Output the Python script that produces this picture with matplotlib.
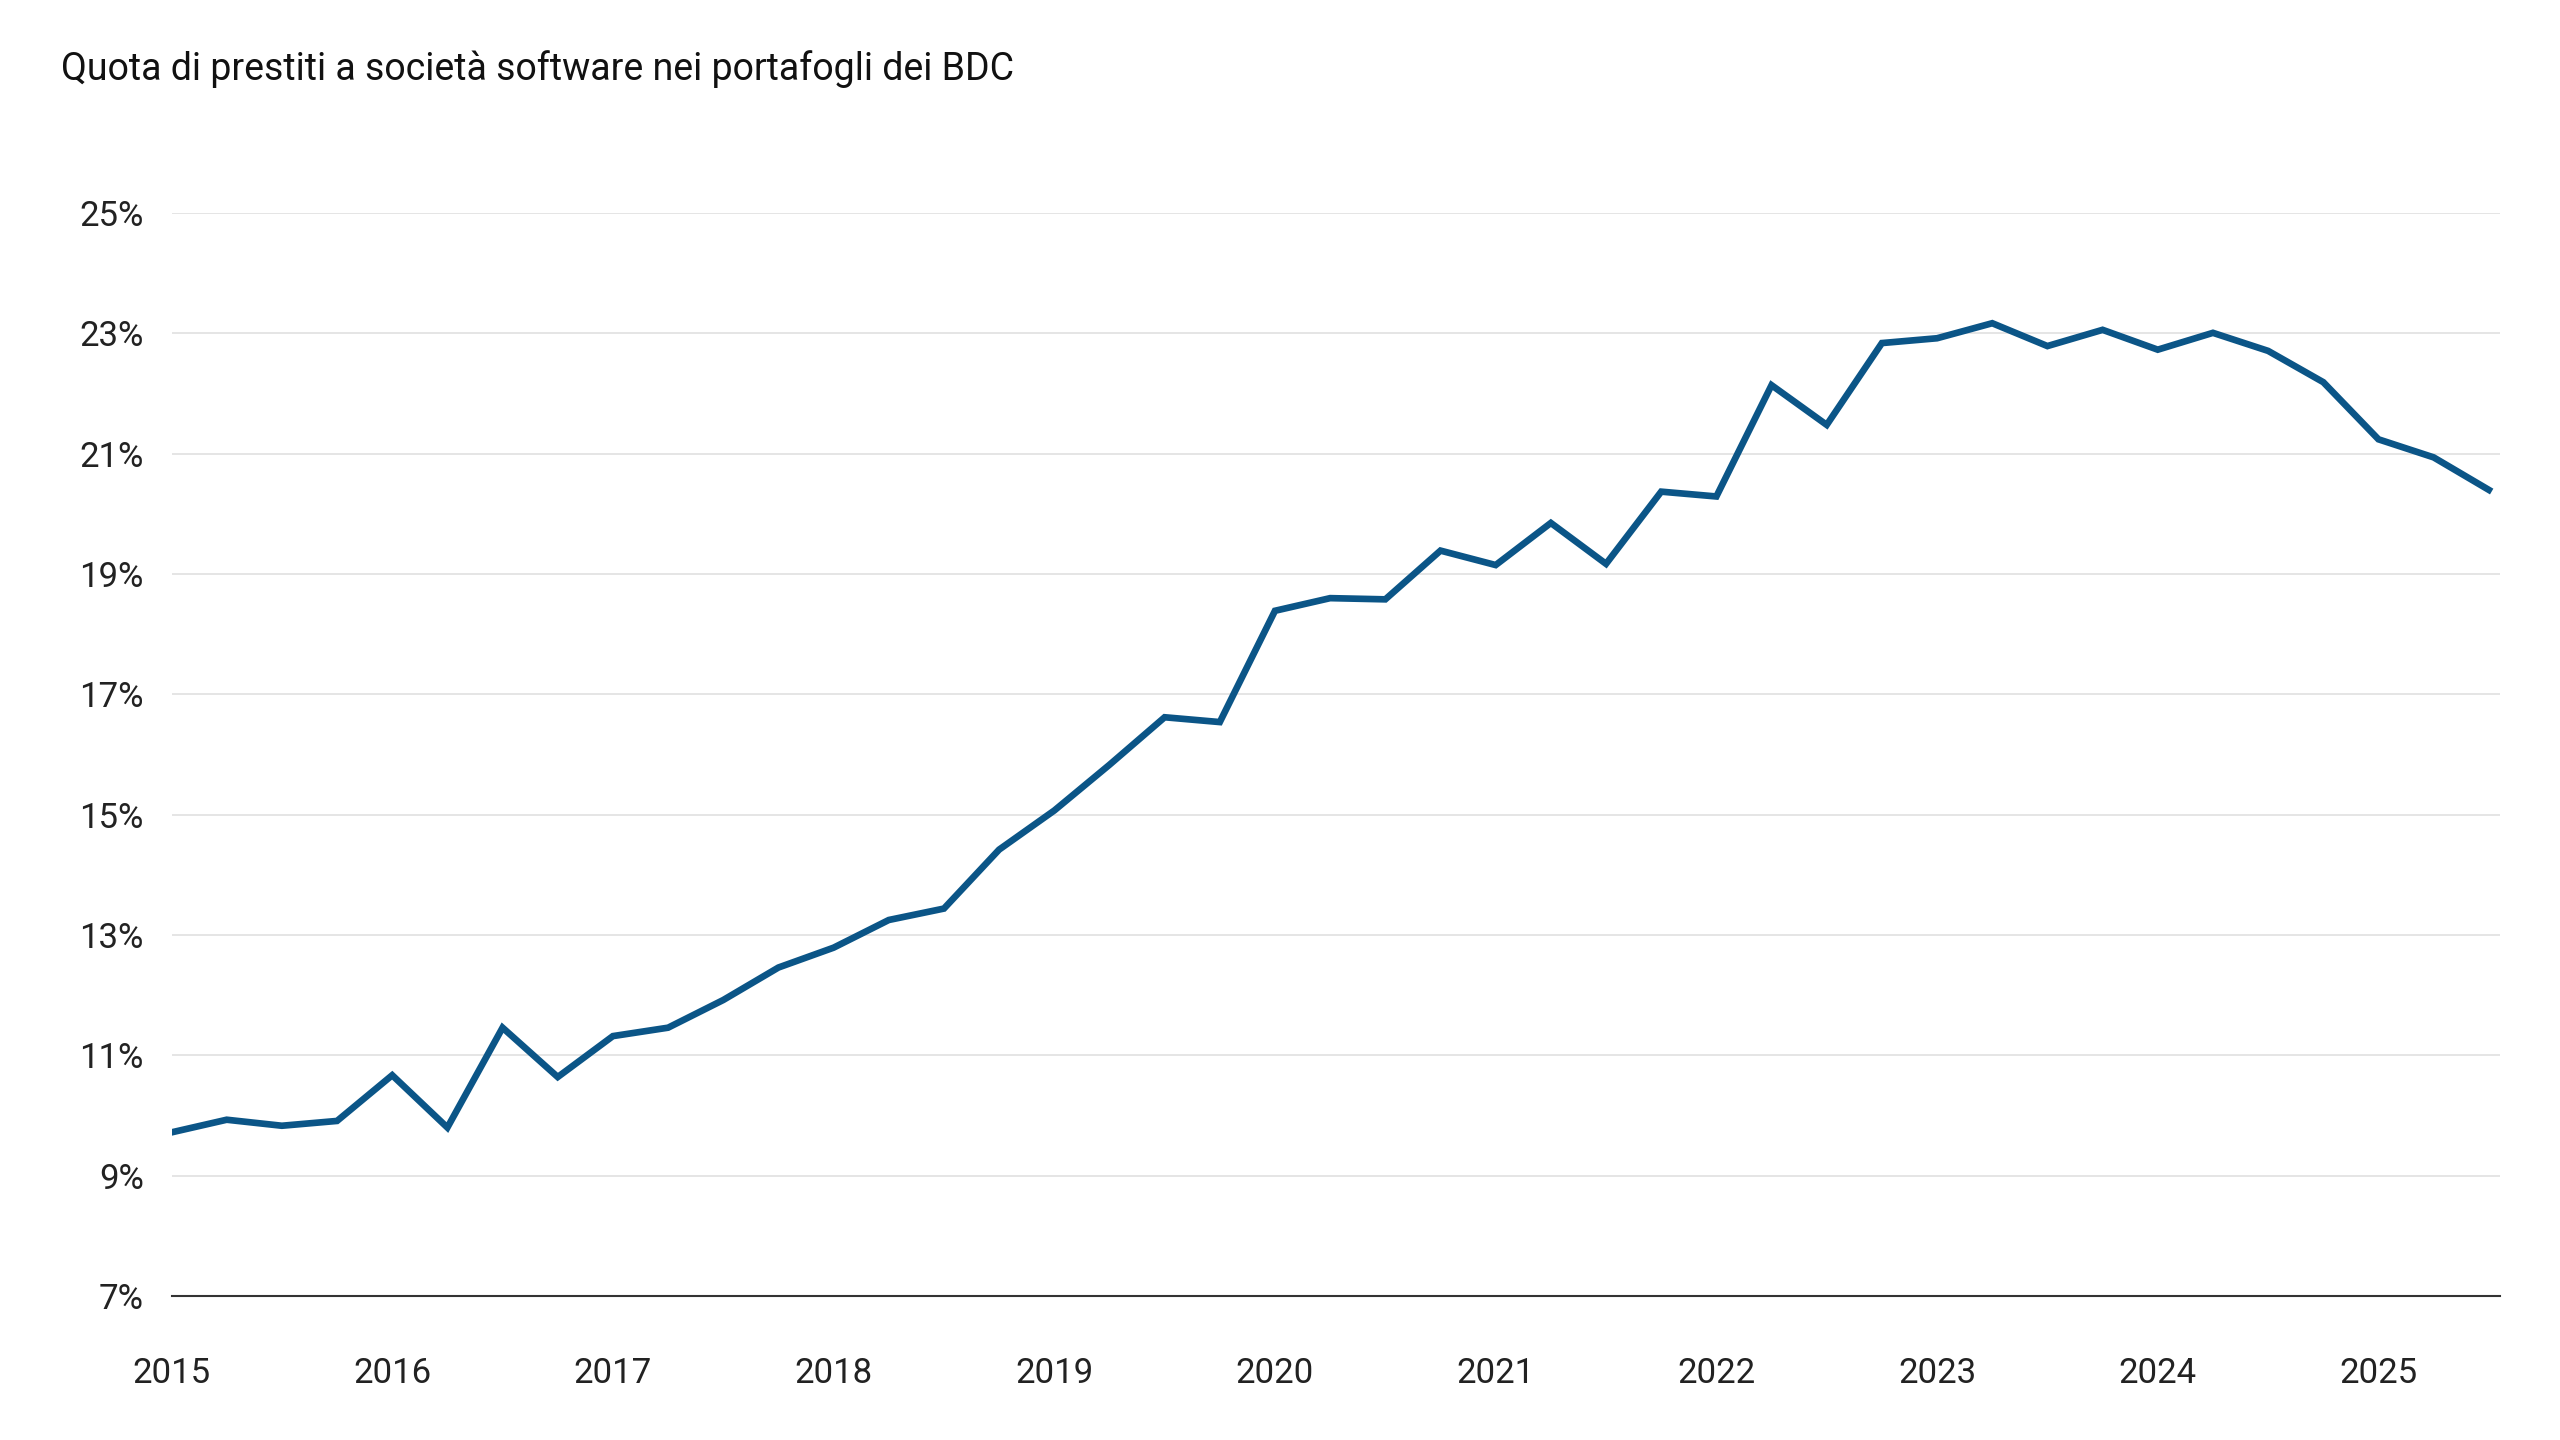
import matplotlib
matplotlib.use("Agg")
import matplotlib.pyplot as plt
import numpy as np

title = "Quota di prestiti a società software nei portafogli dei BDC"
start_year = 2015
values = [9.72, 9.93, 9.83, 9.91, 10.67, 9.80, 11.46, 10.64, 11.32, 11.46, 11.92, 12.46,
          12.79, 13.25, 13.44, 14.42, 15.07, 15.83, 16.62, 16.54, 18.39, 18.60, 18.58, 19.39,
          19.15, 19.85, 19.17, 20.37, 20.29, 22.14, 21.48, 22.84, 22.92, 23.17, 22.79, 23.06,
          22.73, 23.01, 22.71, 22.19, 21.24, 20.94, 20.40]
years = list(range(2015, 2026))
yticks = [7, 9, 11, 13, 15, 17, 19, 21, 23, 25]

plt.rcParams['font.family'] = ['Roboto', 'DejaVu Sans']
fig = plt.figure(figsize=(25.6, 14.4), dpi=100)
ax = fig.add_axes([0.067, 0.10, 0.914, 0.752])
ax.set_position([0.067, 0.10, 0.9095, 0.752])
x = start_year + np.arange(len(values)) * 0.25
ax.plot(x, values, color='#0b5587', lw=4.8, solid_joinstyle='miter')
ax.set_xlim(2015, 2025.55)
ax.set_ylim(7, 25)
ax.set_yticks(yticks)
ax.set_yticklabels([f"{v}%" for v in yticks])
ax.set_xticks(years)
ax.set_xticklabels([str(y) for y in years])
ax.grid(axis='y', color='#e3e3e3', lw=1.3)
ax.set_axisbelow(True)
for s in ['top', 'right', 'left']:
    ax.spines[s].set_visible(False)
ax.spines['bottom'].set_color('#333333')
ax.spines['bottom'].set_linewidth(1.5)
ax.tick_params(axis='both', length=0, labelsize=25, colors='#222222')
ax.tick_params(axis='x', pad=44)
ax.tick_params(axis='y', pad=20)
fig.text(0.024, 0.952, title, fontsize=27, color='#111111', va='center')
fig.savefig("out.png", dpi=100, facecolor='white')
